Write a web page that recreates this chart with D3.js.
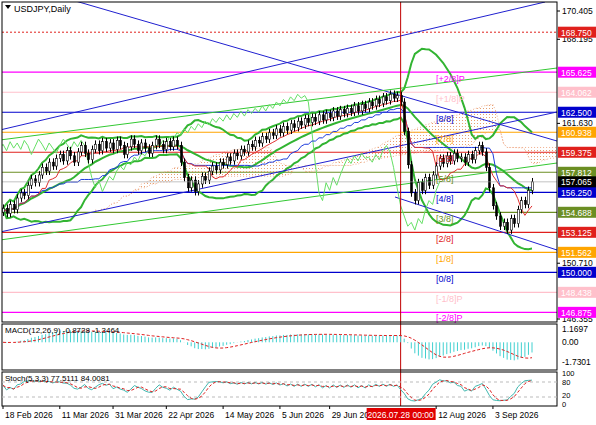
<!DOCTYPE html><html><head><meta charset="utf-8">
<script src="https://cdn.jsdelivr.net/npm/d3@7"></script>
<style>body{margin:0;background:#fff}svg{font-family:"Liberation Sans",Arial,sans-serif}</style></head><body>
<svg id="c" width="596" height="425"></svg>
<script>
const closes=[155.0,154.6,155.3,154.9,155.8,156.2,
156.0,156.8,157.3,157.0,157.6,158.2,157.9,158.6,158.3,158.9,
159.2,158.7,159.5,159.1,158.6,159.4,159.9,159.3,158.8,159.6,160.0,159.5,160.2,159.7,160.1,
159.6,160.3,159.9,159.2,159.8,160.4,160.0,159.5,160.1,159.7,159.3,159.9,160.4,160.0,159.6,160.2,159.8,160.3,159.9,158.6,
157.4,156.6,157.2,156.3,156.9,157.5,
157.2,157.9,158.3,158.0,158.6,158.4,159.0,158.7,159.3,159.1,159.6,159.4,160.0,159.8,160.3,160.1,160.6,160.4,160.9,
160.7,161.2,160.9,161.4,161.1,161.6,161.3,161.8,161.5,162.0,161.7,162.1,161.8,162.3,161.9,162.4,162.1,162.6,162.2,162.7,
162.4,162.8,162.5,163.0,162.6,163.1,162.8,163.3,163.0,163.5,163.2,163.7,163.4,163.9,163.6,163.8,163.3,
161.0,158.4,156.2,155.6,157.0,156.4,157.4,156.8,
157.6,158.3,158.9,158.5,159.1,158.7,159.3,158.9,159.0,158.6,159.2,158.8,159.5,159.9,159.4,
158.2,156.6,155.2,154.4,153.6,153.9,153.3,154.2,153.8,154.9,155.6,155.3,156.4,157.065];
const levelValues=[168.750,165.625,164.062,162.500,160.938,159.375,157.812,156.250,154.688,153.125,151.562,150.000,148.438,146.875];
const levelNames=["","[+2/8]P","[+1/8]P","[8/8]","[7/8]","[6/8]","[5/8]","[4/8]","[3/8]","[2/8]","[1/8]","[0/8]","[-1/8]P","[-2/8]P"];
const levelColors=["#e0201c","#ff00ff","#ffc0cb","#0000cd","#ffa500","#e0201c","#6b8e23","#0000cd","#6b8e23","#e0201c","#ffa500","#0000cd","#ffc0cb","#ff00ff"];
const priceTicks=[170.405,168.195,161.630,150.710,146.355];
const dateLabels=["18 Feb 2026","11 Mar 2026","31 Mar 2026","22 Apr 2026","14 May 2026","5 Jun 2026","29 Jun 2026","12 Aug 2026","3 Sep 2026"];
const dateIdx=[0,16,31,46,62,78,92,122,138];
const vlineIdx=112, vlineLabel="2026.07.28 00:00";
const macdTicks=[1.1697,0.00,-1.7301];

const svg=d3.select("#c");
const R=557;
const x=d3.scaleLinear().domain([0,149]).range([3,532]);
const y=d3.scaleLinear().domain([146.355,170.405]).range([319,11]);
const N=closes.length;
const opens=closes.map((c,i)=>i?closes[i-1]:c-0.3);
const highs=closes.map((c,i)=>Math.max(c,opens[i])+0.3);
const lows=closes.map((c,i)=>Math.min(c,opens[i])-0.3);
const defs=svg.append("defs");
defs.append("clipPath").attr("id","mc").append("rect").attr("x",2).attr("y",2).attr("width",R-2).attr("height",320);
const pat=defs.append("pattern").attr("id","dots").attr("width",3).attr("height",3).attr("patternUnits","userSpaceOnUse");
pat.append("rect").attr("width",1).attr("height",1).attr("fill","#e8a070");
const g=svg.append("g").attr("clip-path","url(#mc)");
levelValues.forEach((v,i)=>{g.append("line").attr("x1",2).attr("x2",R).attr("y1",y(v)).attr("y2",y(v)).attr("stroke",levelColors[i]).attr("stroke-width",i==0?1:1.2).attr("stroke-dasharray",i==0?"2,2":null);});
const mid=(p,i)=>{const s=Math.max(0,i-p+1);return (d3.max(highs.slice(s,i+1))+d3.min(lows.slice(s,i+1)))/2;};
const tenkan=closes.map((c,i)=>mid(9,i)), kijun=closes.map((c,i)=>mid(26,i));
const spanA=[],spanB=[];
for(let i=0;i<N;i++){spanA.push({i:i+26,v:(tenkan[i]+kijun[i])/2});spanB.push({i:i+26,v:mid(52,i)});}
const area=d3.area().x(d=>x(d.i)).y0((d,k)=>y(spanB[k].v)).y1(d=>y(d.v));
g.append("path").attr("d",area(spanA)).attr("fill","url(#dots)");
const ln=d3.line().x(d=>x(d.i)).y(d=>y(d.v));
g.append("path").attr("d",ln(spanA)).attr("fill","none").attr("stroke","#f0b090").attr("stroke-dasharray","1,2");
g.append("path").attr("d",ln(spanB)).attr("fill","none").attr("stroke","#f0b090").attr("stroke-dasharray","1,2");
const bb=closes.map((c,i)=>{const s=closes.slice(Math.max(0,i-19),i+1);const m=d3.mean(s),sd=d3.deviation(s)||0;return{i,m,u:m+2*sd,l:m-2*sd};});
["u","l","m"].forEach(k=>g.append("path").attr("d",ln(bb.map(d=>({i:d.i,v:d[k]})))).attr("fill","none").attr("stroke","#32b432").attr("stroke-width",2));
const tl=[[0,130,545,2,"#2020d0"],[0,232,557,112,"#2020d0"],[72,0,557,141,"#2020d0"],[395,197,557,250,"#2020d0"],[0,140,557,68,"#32c832"],[0,240,557,163,"#32c832"]];
tl.forEach(t=>g.append("line").attr("x1",t[0]).attr("y1",t[1]).attr("x2",t[2]).attr("y2",t[3]).attr("stroke",t[4]).attr("stroke-width",1));
g.append("path").attr("d",ln(closes.map((c,i)=>({i:i-26,v:c})))).attr("fill","none").attr("stroke","#66e066").attr("stroke-width",1);
g.append("path").attr("d",ln(kijun.map((v,i)=>({i,v})))).attr("fill","none").attr("stroke","#1e3cdc").attr("stroke-width",1);
g.append("path").attr("d",ln(tenkan.map((v,i)=>({i,v})))).attr("fill","none").attr("stroke","#e03030").attr("stroke-width",1);
closes.forEach((c,i)=>{const o=opens[i],up=c>=o,cx=Math.round(x(i))+0.5;
 g.append("line").attr("x1",cx).attr("x2",cx).attr("y1",y(highs[i])).attr("y2",y(lows[i])).attr("stroke","#000");
 g.append("rect").attr("x",cx-1).attr("width",2).attr("y",y(Math.max(o,c))).attr("height",Math.max(1,Math.abs(y(o)-y(c)))).attr("fill",up?"#fff":"#000").attr("stroke","#000").attr("stroke-width",0.6);});
g.append("line").attr("x1",2).attr("x2",R).attr("y1",y(closes[N-1])).attr("y2",y(closes[N-1])).attr("stroke","#999").attr("stroke-width",0.6);
levelValues.forEach((v,i)=>{if(levelNames[i]) svg.append("text").attr("x",436).attr("y",Math.min(y(v)+10,321)).attr("font-size",9).attr("fill",levelColors[i]).text(levelNames[i]);});
svg.append("line").attr("x1",x(vlineIdx)).attr("x2",x(vlineIdx)).attr("y1",2).attr("y2",406).attr("stroke","#c00000").attr("stroke-width",1);
[[2,322],[324,370],[372,406]].forEach(p=>svg.append("rect").attr("x",2).attr("y",p[0]).attr("width",R-2).attr("height",p[1]-p[0]).attr("fill","none").attr("stroke","#000"));
priceTicks.forEach(v=>{svg.append("line").attr("x1",R).attr("x2",R+3).attr("y1",y(v)).attr("y2",y(v)).attr("stroke","#000");
 svg.append("text").attr("x",R+5).attr("y",y(v)+3).attr("font-size",8.5).text(v.toFixed(3));});
const box=(v,col,txt)=>{svg.append("rect").attr("x",R+1).attr("y",y(v)-5.5).attr("width",38).attr("height",11).attr("fill",col);
 svg.append("text").attr("x",R+4).attr("y",y(v)+3.5).attr("font-size",8.5).attr("fill","#fff").text(txt);};
levelValues.forEach((v,i)=>box(v,levelColors[i],v.toFixed(3)));
box(closes[N-1],"#000",closes[N-1].toFixed(3));
svg.append("path").attr("d","M5,5 L11,5 L8,9 Z").attr("fill","#000");
svg.append("text").attr("x",14).attr("y",12).attr("font-size",9).text("USDJPY,Daily");
const ema=(arr,p)=>{const k=2/(p+1);let e=arr[0];return arr.map(v=>e=v*k+e*(1-k));};
const e12=ema(closes,12),e26=ema(closes,26);
const macd=closes.map((c,i)=>e12[i]-e26[i]);
const sig=macd.map((v,i)=>d3.mean(macd.slice(Math.max(0,i-8),i+1)));
const ym=d3.scaleLinear().domain([-1.7301,1.1697]).range([362,329]).clamp(true);
macd.forEach((v,i)=>svg.append("line").attr("x1",x(i)).attr("x2",x(i)).attr("y1",ym(0)).attr("y2",ym(v)).attr("stroke","#40d0d0").attr("stroke-width",1));
svg.append("path").attr("d",d3.line().x((d,i)=>x(i)).y(d=>ym(d))(sig)).attr("fill","none").attr("stroke","#e02020").attr("stroke-dasharray","3,2");
macdTicks.forEach(v=>svg.append("text").attr("x",R+5).attr("y",ym(v)+3).attr("font-size",8.5).text(v.toFixed(v==0?2:4)));
svg.append("text").attr("x",5).attr("y",333).attr("font-size",8).text("MACD(12,26,9) -0.8728 -1.3464");
const ys=d3.scaleLinear().domain([0,100]).range([402,377]);
const rawK=closes.map((c,i)=>{const s=Math.max(0,i-4);const h=d3.max(highs.slice(s,i+1)),l=d3.min(lows.slice(s,i+1));return 100*(c-l)/(h-l);});
const sma=(a,p)=>a.map((v,i)=>d3.mean(a.slice(Math.max(0,i-p+1),i+1)));
const K=sma(rawK,3),D=sma(K,3);
[20,80].forEach(v=>svg.append("line").attr("x1",2).attr("x2",R).attr("y1",ys(v)).attr("y2",ys(v)).attr("stroke","#bbb").attr("stroke-dasharray","3,3"));
svg.append("path").attr("d",d3.line().x((d,i)=>x(i)).y(d=>ys(d))(K)).attr("fill","none").attr("stroke","#40b8b0");
svg.append("path").attr("d",d3.line().x((d,i)=>x(i)).y(d=>ys(d))(D)).attr("fill","none").attr("stroke","#e02020").attr("stroke-dasharray","3,2");
[[100,"100",-1],[80,"80",3],[20,"20",1],[0,"0",5]].forEach(t=>svg.append("text").attr("x",R+5).attr("y",ys(t[0])+t[2]).attr("font-size",7.5).text(t[1]));
svg.append("text").attr("x",5).attr("y",381).attr("font-size",8).text("Stoch(5,3,3) 77.5111 84.0081");
dateIdx.forEach((d,k)=>{svg.append("line").attr("x1",x(d)).attr("x2",x(d)).attr("y1",406).attr("y2",409).attr("stroke","#000");
 svg.append("text").attr("x",x(d)+2).attr("y",418).attr("font-size",8.5).text(dateLabels[k]);});
svg.append("rect").attr("x",x(vlineIdx)-34).attr("y",408).attr("width",69).attr("height",12).attr("fill","#e00000");
svg.append("text").attr("x",x(vlineIdx)).attr("y",418).attr("font-size",8.5).attr("fill","#fff").attr("text-anchor","middle").text(vlineLabel);
</script></body></html>
